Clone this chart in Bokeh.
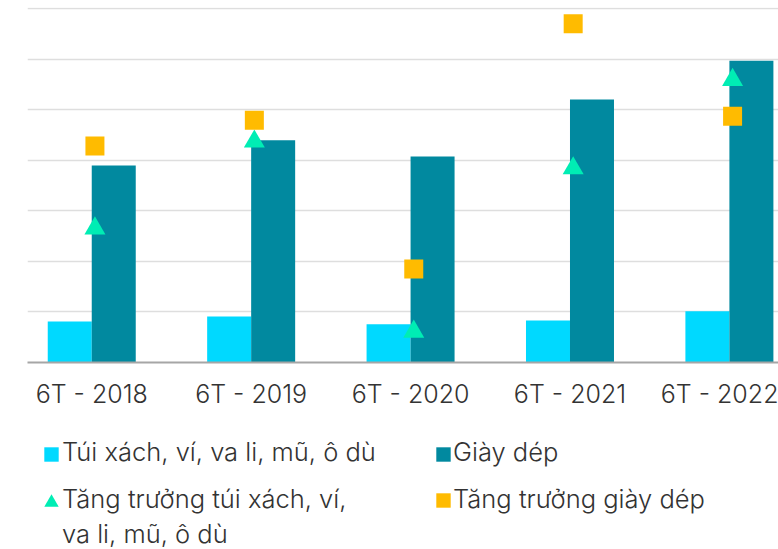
from bokeh.plotting import figure
from bokeh.layouts import column
from bokeh.models import (Range1d, FixedTicker, SingleIntervalTicker, Legend, LegendItem,
                          ColumnDataSource)
from bokeh.transform import dodge
from bokeh.embed import file_html
from bokeh.resources import INLINE

# ---- data ----
categories = ["6T - 2018", "6T - 2019", "6T - 2020", "6T - 2021", "6T - 2022"]
bags = [1.62, 1.82, 1.51, 1.66, 2.03]                 # Túi xách, ví, va li, mũ, ô dù
footwear = [7.79, 8.79, 8.15, 10.40, 11.93]           # Giày dép
bags_growth = [-3.5, 13.7, -23.9, 8.4, 25.9]          # Tăng trưởng túi xách ... (%)
footwear_growth = [12.8, 17.9, -11.5, 37.0, 18.7]     # Tăng trưởng giày dép (%)

C_BAGS = "#00D9FF"
C_SHOES = "#01899F"
C_BAGS_G = "#00EDB4"
C_SHOES_G = "#FFBB00"
FONT = "Inter Light, Inter"
TXT = "#333333"

idx = list(range(len(categories)))
src = ColumnDataSource(dict(x=idx, bags=bags, footwear=footwear,
                            bags_growth=bags_growth, footwear_growth=footwear_growth))

# ---------------- chart ----------------
p = figure(width=778, height=422, frame_width=751, frame_height=355,
           x_range=Range1d(-0.403, 4.308), y_range=Range1d(0, 14.04),
           output_backend="svg", toolbar_location=None, y_axis_location=None,
           min_border_left=27, min_border_right=0, min_border_top=7, min_border_bottom=60)
p.extra_y_ranges = {"growth": Range1d(-30, 40.2)}
p.outline_line_color = None
p.xgrid.visible = False
p.ygrid.ticker = SingleIntervalTicker(interval=2)
p.ygrid.grid_line_color = "#DEDEDE"
p.ygrid.grid_line_width = 1.5

p.xaxis.ticker = FixedTicker(ticks=idx)
p.xaxis.major_label_overrides = {i: c for i, c in zip(idx, categories)}
p.xaxis.axis_line_color = "#A6A6A6"
p.xaxis.axis_line_width = 2
p.xaxis.major_tick_line_color = None
p.xaxis.minor_tick_line_color = None
p.xaxis.major_label_standoff = 10
p.xaxis.major_label_text_font = FONT
p.xaxis.major_label_text_font_size = "25px"
p.xaxis.major_label_text_color = TXT

bw = 0.276
p.vbar(x=dodge("x", -bw / 2), top="bags", width=bw, source=src,
       fill_color=C_BAGS, line_color=None)
p.vbar(x=dodge("x", bw / 2), top="footwear", width=bw, source=src,
       fill_color=C_SHOES, line_color=None)
p.scatter(x=dodge("x", 0.02), y="bags_growth", y_range_name="growth", source=src,
          marker="triangle", size=21, fill_color=C_BAGS_G, line_color=None)
p.scatter(x=dodge("x", 0.02), y="footwear_growth", y_range_name="growth", source=src,
          marker="square", size=19, fill_color=C_SHOES_G, line_color=None)

# ---------------- legend strip ----------------
q = figure(width=778, height=127, x_range=Range1d(0, 1), y_range=Range1d(0, 1),
           output_backend="svg", toolbar_location=None,
           x_axis_location=None, y_axis_location=None, min_border=0)
q.outline_line_color = None
q.grid.visible = False
k_bags = q.scatter(x="x", y="bags", source=src, marker="square",
                   fill_color=C_BAGS, line_color=None, visible=False)
k_shoes = q.scatter(x="x", y="footwear", source=src, marker="square",
                    fill_color=C_SHOES, line_color=None, visible=False)
k_bg = q.scatter(x="x", y="bags_growth", source=src, marker="triangle",
                 fill_color=C_BAGS_G, line_color=None, visible=False)
k_sg = q.scatter(x="x", y="footwear_growth", source=src, marker="square",
                 fill_color=C_SHOES_G, line_color=None, visible=False)


def add_legend(label, renderer, loc, glyph_w):
    q.add_layout(Legend(items=[LegendItem(label=label, renderers=[renderer])], location=loc,
                        glyph_width=glyph_w, glyph_height=36, label_standoff=0,
                        padding=0, margin=0, spacing=0, border_line_color=None,
                        background_fill_alpha=0, inactive_fill_alpha=0,
                        label_text_font=FONT, label_text_font_size="25.5px",
                        label_text_color=TXT))


# legend keys (glyph only)
add_legend(" ", k_bags, (6, 77), 36)
add_legend(" ", k_shoes, (398, 77), 36)
add_legend(" ", k_bg, (6, 29), 36)
add_legend(" ", k_sg, (398, 31), 36)
# legend labels
add_legend("Túi xách, ví, va li, mũ, ô dù", k_bags, (35, 80), 0)
add_legend("Giày dép", k_shoes, (426, 80), 0)
add_legend("Tăng trưởng túi xách, ví,", k_bg, (35, 33), 0)
add_legend("va li, mũ, ô dù", k_bg, (35, -2), 0)
add_legend("Tăng trưởng giày dép", k_sg, (426, 33), 0)

open("out.html", "w").write(file_html(column(p, q, spacing=0), INLINE))
